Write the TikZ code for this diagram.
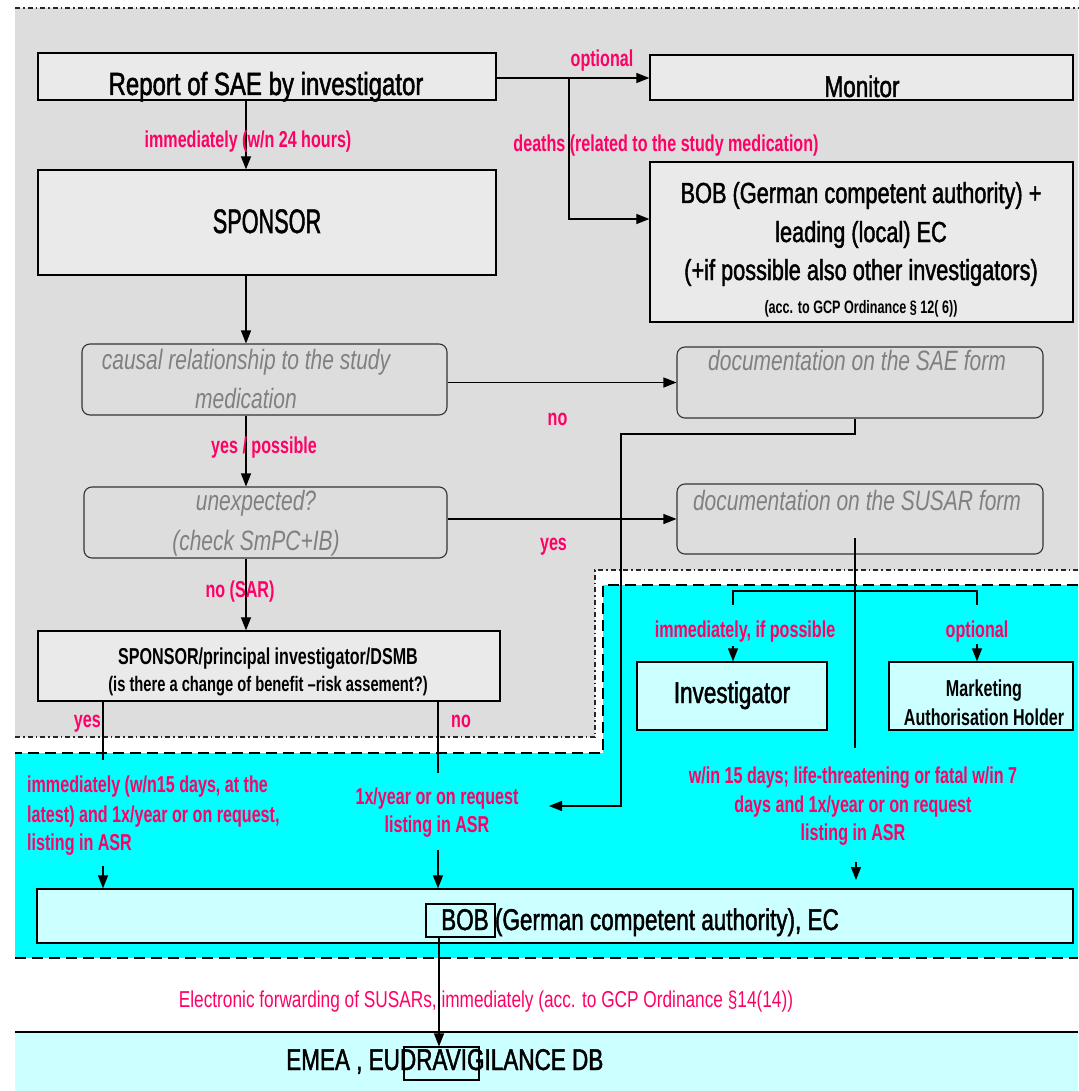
\documentclass[tikz,border=0pt]{standalone}
\usepackage{fontspec}
\usepackage{graphicx}
\setmainfont{Liberation Sans}[FakeStretch=0.75]
\newfontfamily\rfam{Liberation Sans}[FakeStretch=0.75,FakeBold=1.5]
\newfontfamily\bfam{Liberation Sans}[FakeStretch=0.70]
\usetikzlibrary{arrows.meta}
\definecolor{pinkl}{RGB}{255,0,102}
\definecolor{graybg}{RGB}{221,221,221}
\definecolor{boxgray}{RGB}{234,234,234}
\definecolor{cyanbg}{RGB}{0,255,255}
\definecolor{lcyan}{RGB}{204,255,255}
\definecolor{itgray}{RGB}{128,128,128}
\newcommand\fsz[1]{\fontsize{#1}{#1}\selectfont}
\begin{document}
\begin{tikzpicture}[x=1pt,y=-1pt,
  box/.style={draw=black, line width=1.3pt, fill=boxgray, inner sep=0pt},
  rbox/.style={draw=black!80, line width=1.1pt, rounded corners=8pt, inner sep=0pt},
  cbox/.style={draw=black, line width=1.3pt, fill=lcyan, inner sep=0pt},
  obox/.style={draw=black, line width=1.1pt, inner sep=0pt},
  txt/.style={inner sep=0pt, anchor=base, text=black, font=\rfam\fsz{30}},
  itx/.style={inner sep=0pt, anchor=base, text=itgray, font=\itshape\fsz{28}},
  btx/.style={inner sep=0pt, anchor=base, text=black, font=\bfam\bfseries\fsz{23}},
  lbl/.style={inner sep=0pt, anchor=base, text=pinkl, font=\bfam\bfseries\fsz{23}},
  ln/.style={line width=1.2pt, draw=black},
  arr/.style={line width=1.2pt, draw=black, -{Triangle[length=13pt,width=10pt]}},
  dashdot/.style={line width=1.6pt, draw=black!85, dash pattern=on 5pt off 3pt on 1.5pt off 3pt},
  dsh/.style={line width=2.2pt, draw=black, dash pattern=on 11pt off 6pt}]
\useasboundingbox (0,0) rectangle (1078,1091);
\fill[white] (0,0) rectangle (1078,1091);
% background regions
\fill[graybg] (15,8) -- (1078,8) -- (1078,570) -- (595,570) -- (595,737) -- (15,737) -- cycle;
\draw[dashdot] (15,8) -- (1078,8);
\draw[dashdot] (1078,570) -- (595,570) -- (595,737) -- (15,737);
\fill[cyanbg] (603,585) -- (1078,585) -- (1078,958) -- (15,958) -- (15,753) -- (603,753) -- cycle;
\draw[dsh] (1078,585) -- (603,585) -- (603,753) -- (15,753);
\draw[dsh] (15,958) -- (1078,958);
\fill[lcyan] (15,1032) rectangle (1078,1091);
\draw[line width=1.5pt] (15,1032) -- (1078,1032);

% boxes
\node[box, minimum width=458pt, minimum height=47pt] (report) at (267,76.5) {};
\node[box, minimum width=458pt, minimum height=105pt] (sponsor) at (267,222.5) {};
\node[box, minimum width=423pt, minimum height=45pt] (monitor) at (861.5,77.5) {};
\node[box, minimum width=423pt, minimum height=160pt] (bob1) at (861.5,242) {};
\node[rbox, minimum width=365pt, minimum height=71pt] (causal) at (264.5,379.5) {};
\node[rbox, minimum width=363pt, minimum height=71pt] (unexp) at (265.5,522.5) {};
\node[rbox, minimum width=366pt, minimum height=71pt] (saedoc) at (860,382.5) {};
\node[rbox, minimum width=366pt, minimum height=70pt] (susardoc) at (860,519) {};
\node[box, minimum width=462pt, minimum height=70pt] (spi) at (269,666) {};
\node[cbox, minimum width=190pt, minimum height=68pt] (invest) at (732,696) {};
\node[cbox, minimum width=184pt, minimum height=68pt] (mah) at (981,696) {};
\node[cbox, minimum width=1036pt, minimum height=54pt] (bob2) at (555,916) {};
\node[obox, minimum width=69pt, minimum height=33pt] (bobsmall) at (460.5,920.5) {};
\node[obox, minimum width=75pt, minimum height=33pt] (dravig) at (441.5,1063.5) {};

% texts in boxes
\node[txt, font=\rfam\fsz{32}] (treport) at (266,95) {Report of SAE by investigator};
\node[txt, font=\rfam\fsz{34}] (tsponsor) at (267,233) {\scalebox{0.85}[1]{SPONSOR}};
\node[txt] (tmonitor) at (862,97) {Monitor};
\node[txt, font=\rfam\fsz{29}] (tbob1a) at (861,203) {BOB (German competent authority) +};
\node[txt, font=\rfam\fsz{29}] (tbob1b) at (861,242) {leading (local) EC};
\node[txt, font=\rfam\fsz{29}] (tbob1c) at (861,280) {(+if possible also other investigators)};
\node[btx, font=\bfam\bfseries\fsz{18}] (tbob1d) at (861,313) {(acc. to GCP Ordinance § 12( 6))};
\node[itx] (tcausala) at (246,369) {causal relationship to the study};
\node[itx] (tcausalb) at (246,408) {medication};
\node[itx] (tunexpa) at (256,510) {unexpected?};
\node[itx] (tunexpb) at (256,550) {(check SmPC+IB)};
\node[itx] (tsaedoc) at (857,370) {documentation on the SAE form};
\node[itx] (tsusardoc) at (857,510) {documentation on the SUSAR form};
\node[btx] (tspia) at (268,664) {SPONSOR/principal investigator/DSMB};
\node[btx, font=\bfam\bfseries\fsz{21}] (tspib) at (268,691) {(is there a change of benefit –risk assement?)};
\node[txt] (tinvest) at (732,703) {Investigator};
\node[btx] (tmaha) at (984,696) {Marketing};
\node[btx] (tmahb) at (984,725) {Authorisation Holder};
\node[txt, anchor=base west] (tbob2) at (441,930) {BOB (German competent authority), EC};
\node[txt, anchor=base west] (temea) at (286,1070) {EMEA , EUDRAVIGILANCE DB};

% connectors
\coordinate (colA) at (246,0);
\draw[arr] (report.south -| colA) -- (sponsor.north -| colA);
\draw[arr] (sponsor.south -| colA) -- (causal.north -| colA);
\draw[arr] (causal.south -| colA) -- (unexp.north -| colA);
\draw[arr] (unexp.south -| colA) -- (spi.north -| colA);
\coordinate (rowR) at (0,78);
\draw[arr] (report.east |- rowR) -- (monitor.west |- rowR);
\coordinate (brk) at (569,78);
\coordinate (brk2) at (569,219);
\draw[arr] (brk) -- (brk2) -- (bob1.west |- brk2);
\draw[arr] (causal.east |- saedoc.west) -- (saedoc.west);
\draw[arr] (unexp.east |- susardoc.west) -- (susardoc.west);
\coordinate (colB) at (855,0);
\coordinate (ret) at (549,806);
\draw[arr] (saedoc.south -| colB) -- (855,434) -- (621,434) -- (621,806) -- (ret);
\coordinate (s1) at (855,538);
\coordinate (s2) at (855,748);
\draw[ln] (s1) -- (s2);
\coordinate (s3) at (856,862);
\draw[arr] (s3) -- ++(0,18);
\draw[ln] (733,605) -- (733,591) -- (977,591) -- (977,605);
\coordinate (ia) at (733,646);
\draw[arr] (ia) -- (invest.north -| ia);
\coordinate (ma) at (977,644);
\draw[arr] (ma) -- (mah.north -| ma);
\coordinate (colY) at (103,0);
\draw[ln] (spi.south -| colY) -- ++(0,58);
\coordinate (ya) at (103,866);
\draw[arr] (ya) -- (bob2.north -| ya);
\coordinate (colN) at (438,0);
\draw[ln] (spi.south -| colN) -- ++(0,71);
\coordinate (na) at (438,850);
\draw[arr] (na) -- (bob2.north -| na);
\coordinate (colE) at (439,0);
\draw[arr] (bobsmall.south -| colE) -- (dravig.north -| colE);

% labels
\node[lbl] (l1) at (248,148) {immediately (w/n 24 hours)};
\node[lbl] (l2) at (602,67) {optional};
\node[lbl] (l3) at (666,152) {deaths (related to the study medication)};
\node[lbl] (l4) at (264,453) {yes / possible};
\node[lbl] (l5) at (240,597) {no (SAR)};
\node[lbl] (l6) at (557.5,425) {no};
\node[lbl] (l7) at (553.5,550) {yes};
\node[lbl, anchor=base east] (l8) at (101,727) {yes};
\node[lbl, anchor=base west] (l9) at (451,727) {no};
\node[lbl] (l10) at (745,637) {immediately, if possible};
\node[lbl] (l11) at (977,637) {optional};
\node[lbl, anchor=base west] (l12a) at (27,792) {immediately (w/n15 days, at the};
\node[lbl, anchor=base west] (l12b) at (27,822) {latest) and 1x/year or on request,};
\node[lbl, anchor=base west] (l12c) at (27,850) {listing in ASR};
\node[lbl] (l13a) at (437,804) {1x/year or on request};
\node[lbl] (l13b) at (437,832) {listing in ASR};
\node[lbl] (l14a) at (853,783) {w/in 15 days; life-threatening or fatal w/in 7};
\node[lbl] (l14b) at (853,812) {days and 1x/year or on request};
\node[lbl] (l14c) at (853,840) {listing in ASR};
\node[lbl, font=\fsz{23}] (l15) at (486,1007) {Electronic forwarding of SUSARs, immediately (acc. to GCP Ordinance §14(14))};
\end{tikzpicture}
\end{document}
